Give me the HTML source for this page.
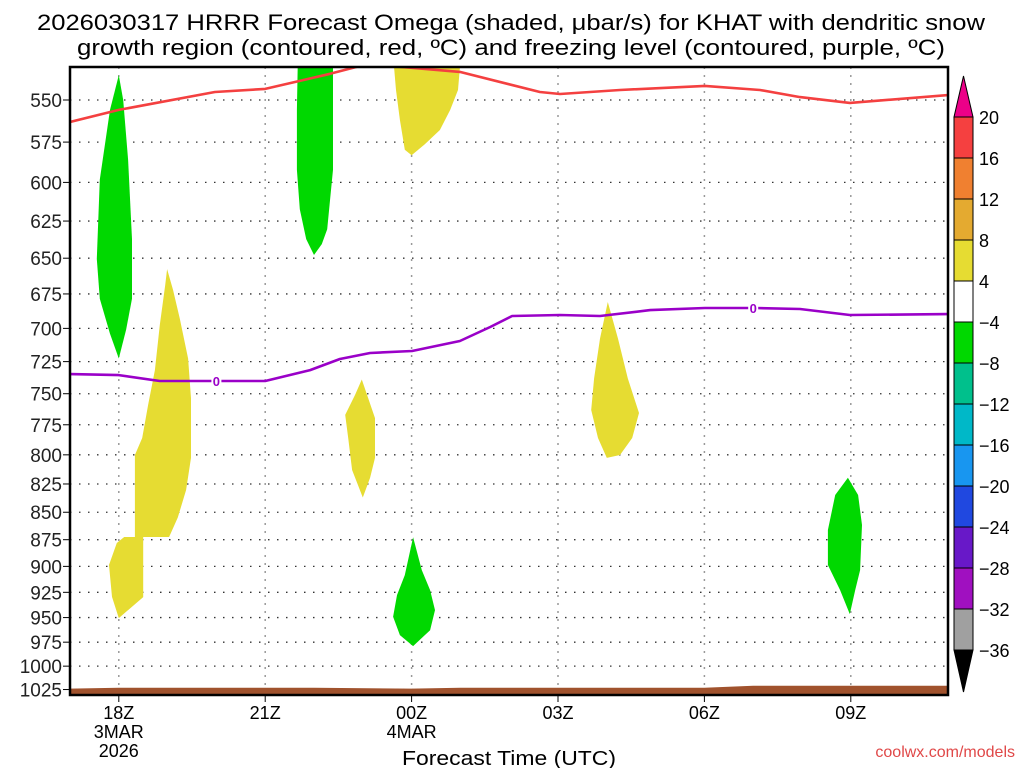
<!DOCTYPE html>
<html><head><meta charset="utf-8"><style>
body{margin:0;background:#fff;width:1024px;height:768px;overflow:hidden}
svg{display:block;font-family:"Liberation Sans","DejaVu Sans",sans-serif}
</style></head><body>
<svg id="chart" width="1024" height="768" viewBox="0 0 1024 768" xmlns="http://www.w3.org/2000/svg">
<text x="511" y="30" font-size="22" text-anchor="middle" textLength="948" lengthAdjust="spacingAndGlyphs" fill="#000">2026030317 HRRR Forecast Omega (shaded, μbar/s) for KHAT with dendritic snow</text>
<text x="511" y="55" font-size="22" text-anchor="middle" textLength="868" lengthAdjust="spacingAndGlyphs" fill="#000">growth region (contoured, red, ºC) and freezing level (contoured, purple, ºC)</text>
<defs><clipPath id="plotclip"><rect x="70" y="67" width="878" height="628"/></clipPath></defs>
<g id="grid"></g>
<g id="fills" clip-path="url(#plotclip)"></g>
<g id="lines" clip-path="url(#plotclip)"></g>
<rect x="70" y="67" width="878" height="628" fill="none" stroke="#000" stroke-width="2.5"/>
<g id="axes"></g>
<g id="cbar"></g>
<text x="509" y="765" font-size="20" text-anchor="middle" textLength="214" lengthAdjust="spacingAndGlyphs">Forecast Time (UTC)</text>
<text x="1015" y="757" font-size="16" text-anchor="end" fill="#e04848">coolwx.com/models</text>
</svg>
<script>
const pTicks=[550,575,600,625,650,675,700,725,750,775,800,825,850,875,900,925,950,975,1000,1025];
const xTickHours=[1,4,7,10,13,16];
const xTickLabels=[["18Z","3MAR","2026"],["21Z"],["00Z","4MAR"],["03Z"],["06Z"],["09Z"]];
const dgzHours=[0,1,2.97,4,4.71,5.33,5.94,6.56,7.99,9.63,10.04,11.27,13.01,14.14,14.96,15.98,18];
const dgzP=[562.9,555.8,545.4,543.6,539,535,530.6,530.6,533.9,545.4,546.5,544.2,541.9,544.2,548.3,551.7,547.1];
const frzHours=[0,1,1.84,2.97,4,4.92,5.53,6.15,7.01,7.99,8.61,9.06,10.04,10.86,11.89,13.01,14.04,14.96,15.98,18];
const frzP=[734.6,735.4,740,740,740,731.5,723,718.4,716.9,709.4,699,690.9,690.2,690.9,686.6,685.1,685.1,685.8,690.2,689.5];
const frzLabelHours=[3,14];
const frzLabelP=[740,685.1];
const omegaAreas=[
 {name:"green-area-18z",color:"#00d800",h:[1.0,1.09,1.19,1.27,1.27,1.15,1.0,0.82,0.61,0.55,0.61,0.82],p:[535.7,550,585.8,637,678.4,701,722.6,704,678.4,650.5,598.2,555.8]},
 {name:"yellow-area-19z",color:"#e6dc32",h:[1.99,2.11,2.25,2.42,2.48,2.48,2.38,2.21,2.03,1.5,1.5,1.19,1.0,0.86,0.8,0.96,1.11,1.33,1.33,1.48,1.6,1.74,1.84,1.95],p:[657.5,672,692.8,722.6,753.6,802.6,830.3,854.7,872.5,872.5,929.7,942.5,950.5,929.5,898.7,878.1,872.5,872.5,800.1,785.9,759,731.5,697.5,668.7]},
 {name:"green-area-22z",color:"#00d800",h:[4.71,5.39,5.39,5.39,5.33,5.27,5.16,5.0,4.84,4.71,4.65,4.65,4.67],p:[525,525,550,592,610.9,630.4,640.4,647.8,637,617.3,592,555.8,525]},
 {name:"yellow-area-00z-top",color:"#e6dc32",h:[6.62,8.01,7.95,7.79,7.58,7.27,7.0,6.86,6.76,6.68],p:[525,525,544.2,555.8,567.7,576.3,583,579.7,561.7,544.2]},
 {name:"yellow-area-23z",color:"#e6dc32",h:[5.98,6.25,6.25,6.15,6.0,5.78,5.7,5.64,5.84],p:[738.8,769.6,802.6,819.6,836.9,812.9,785.9,767,751]},
 {name:"green-area-00z",color:"#00d800",h:[7.03,7.21,7.38,7.48,7.38,7.03,6.76,6.62,6.7,6.86],p:[872.8,903.5,922.8,942.5,962.7,979.1,967.7,949.2,927.7,908.3]},
 {name:"yellow-area-04z",color:"#e6dc32",h:[11.02,11.23,11.43,11.66,11.52,11.27,11.0,10.82,10.68,10.74,10.86],p:[680.8,707.6,738,765.4,785.9,800.1,802.6,785.9,763,738,707.6]},
 {name:"green-area-09z",color:"#00d800",h:[15.94,16.15,16.23,16.19,16.09,15.98,15.78,15.53,15.53,15.68],p:[819.6,834.7,861.5,903.5,922.8,946.5,922.8,898.7,866.1,834.7]}
];
const groundHours=[0,1,5,7,8,13,14,18];
const groundP=[1024,1023,1023,1024,1023,1023,1021,1021];
const cbarLabels=["20","16","12","8","4","−4","−8","−12","−16","−20","−24","−28","−32","−36"];
const cbarColors=["#f54040","#f08030","#e4aa30","#e6dc32","#ffffff","#00d800","#00c08c","#00b8c8","#1896f0","#2048e0","#6818c8","#a010c0","#a0a0a0"];

const NS="http://www.w3.org/2000/svg";
const X0=70,PXH=48.8;
function xs(h){return X0+h*PXH;}
function ys(p){return 100+947*Math.log(p/550);}
function mk(tag,attrs,parent){const e=document.createElementNS(NS,tag);for(const k in attrs)e.setAttribute(k,attrs[k]);parent.appendChild(e);return e;}
const grid=document.getElementById('grid'),axes=document.getElementById('axes'),fills=document.getElementById('fills'),lines=document.getElementById('lines'),cbar=document.getElementById('cbar');

pTicks.forEach(p=>{
 const y=ys(p);
 const g=mk('line',{x1:70,x2:948,y1:y,y2:y,stroke:'#333','stroke-width':1.3,'stroke-dasharray':'1.5 7.5'},grid);
 
 
 const t=mk('line',{x1:63,x2:70,y1:y,y2:y,stroke:'#000','stroke-width':1},axes);
 
 
 const lb=mk('text',{x:62,y:y+7,'font-size':19,'text-anchor':'end',fill:'#222'},axes);
 lb.textContent=p;
 
 
});
xTickHours.forEach((h,i)=>{
 const x=xs(h);
 const g=mk('line',{x1:x,x2:x,y1:67,y2:695,stroke:'#999','stroke-width':1.5,'stroke-dasharray':'2 6'},grid);
 
 
 const t=mk('line',{x1:x,x2:x,y1:695,y2:702,stroke:'#000','stroke-width':1},axes);
 
 
 xTickLabels[i].forEach((s,j)=>{
  const lb=mk('text',{x:x,y:719+j*19,'font-size':18,'text-anchor':'middle',fill:'#000'},axes);
  lb.textContent=s;
  
  
 });
});
omegaAreas.forEach(a=>{
 const pts=a.h.map((h,i)=>xs(h).toFixed(1)+','+ys(a.p[i]).toFixed(1)).join(' ');
 const e=mk('polygon',{points:pts,fill:a.color},fills);
 
 
});
{
 let pts=groundHours.map((h,i)=>xs(h).toFixed(1)+','+ys(groundP[i]).toFixed(1));
 pts.push('948,700','70,700');
 const e=mk('polygon',{points:pts.join(' '),fill:'#a0522d'},fills);
 
 
}
function line(hs,ps,color,name){
 const d=hs.map((h,i)=>(i?'L':'M')+xs(h).toFixed(1)+','+ys(ps[i]).toFixed(1)).join('');
 const e=mk('path',{d:d,fill:'none',stroke:color,'stroke-width':2.6,'stroke-linejoin':'round'},lines);
 
 
}
line(dgzHours,dgzP,'#f44040','dgz-contour-red');
line(frzHours,frzP,'#9a00c8','freezing-level-contour');
frzLabelHours.forEach((h,i)=>{
 const x=xs(h),y=ys(frzLabelP[i]);
 const b=mk('rect',{x:x-5,y:y-7,width:10,height:14,fill:'#fff'},lines);
 
 
 const t=mk('text',{x:x,y:y+5,'font-size':13,'font-weight':'bold','text-anchor':'middle',fill:'#9a00c8'},lines);
 t.textContent='0';
 
 
});
const CX=954,CW=19,CT=117,CH=41;
{
 const t=mk('polygon',{points:`${CX},${CT} ${CX+CW},${CT} ${CX+CW/2},76`,fill:'#ec0088',stroke:'#000','stroke-width':1},cbar);
 
 
}
cbarColors.forEach((c,i)=>{
 const r=mk('rect',{x:CX,y:CT+i*CH,width:CW,height:CH,fill:c,stroke:'#000','stroke-width':1},cbar);
 
 
});
{
 const yb=CT+cbarColors.length*CH;
 const t=mk('polygon',{points:`${CX},${yb} ${CX+CW},${yb} ${CX+CW/2},692`,fill:'#000',stroke:'#000','stroke-width':1},cbar);
 
 
}
cbarLabels.forEach((s,i)=>{
 const t=mk('text',{x:979,y:CT+i*CH+7,'font-size':18,fill:'#000'},cbar);
 t.textContent=s;
 
 
});
</script>
</body></html>
